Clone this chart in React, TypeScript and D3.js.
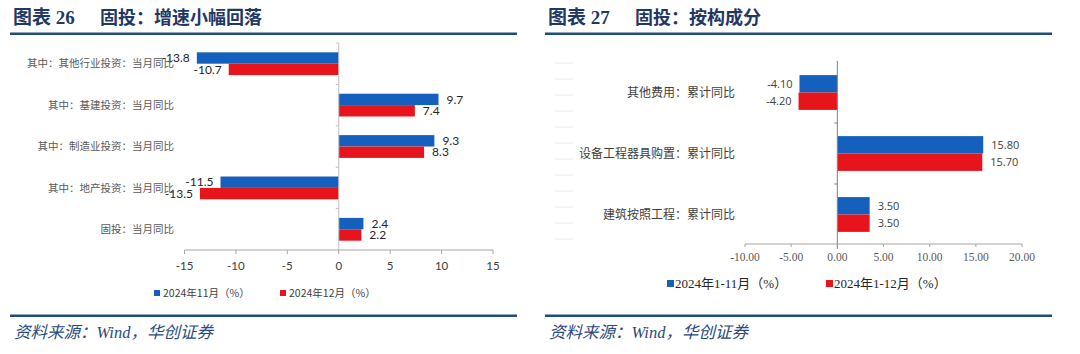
import React from 'react'
import * as d3 from 'd3'

// 图表26 固投：增速小幅回落
const leftCategories = [
  '其中：其他行业投资：当月同比',
  '其中：基建投资：当月同比',
  '其中：制造业投资：当月同比',
  '其中：地产投资：当月同比',
  '固投：当月同比',
]
const leftNov = [-13.8, 9.7, 9.3, -11.5, 2.4]
const leftDec = [-10.7, 7.4, 8.3, -13.5, 2.2]
const leftTicks = [-15, -10, -5, 0, 5, 10, 15]
const leftSeries = ['2024年11月（%）', '2024年12月（%）']

// 图表27 固投：按构成分
const rightCategories = ['其他费用：累计同比', '设备工程器具购置：累计同比', '建筑按照工程：累计同比']
const right11 = [-4.1, 15.8, 3.5]
const right12 = [-4.2, 15.7, 3.5]
const rightTicks = [-10, -5, 0, 5, 10, 15, 20]
const rightSeries = ['2024年1-11月（%）', '2024年1-12月（%）']

const BLUE = '#1560bd'
const RED = '#e8141c'
const NAVY = '#1f4e79'
const CJK = '"Noto Sans CJK SC", sans-serif'
const SERIF = '"Liberation Serif", "Noto Sans CJK SC", serif'

function Frame({x0, x1, title, num}: {x0: number, x1: number, title: string, num: string}) {
  return (
    <g>
      <text x={x0 + 3} y={24} fontFamily={SERIF} fontWeight="bold" fontSize={19} fill="#1f3864">
        图表 {num}
      </text>
      <text x={x0 + 90} y={24} fontFamily={CJK} fontWeight="bold" fontSize={18} fill="#1f3864">
        {title}
      </text>
      <rect x={x0} y={32.5} width={x1 - x0} height={2.5} fill={NAVY} />
      <rect x={x0} y={314.5} width={x1 - x0} height={2.5} fill={NAVY} />
      <text x={x0 + 4} y={338} fontFamily={SERIF} fontStyle="italic" fontSize={16.5} fill="#2a4a80">
        资料来源：Wind，华创证券
      </text>
    </g>
  )
}

function LeftChart() {
  const x = d3.scaleLinear().domain([-15, 15]).range([184.5, 493])
  const y = d3.scaleBand().domain(leftCategories).range([43, 250]).paddingInner(0.45).paddingOuter(0.225)
  const step = y.step()
  const bw = y.bandwidth() / 2
  const z = x(0)
  const series = [leftNov, leftDec]
  const colors = [BLUE, RED]
  return (
    <g>
      {/* bars */}
      {series.map((vals, s) =>
        leftCategories.map((c, i) => {
          const v = vals[i]
          const y0 = (y(c) as number) + s * bw
          const xa = Math.min(x(v), z)
          return (
            <g key={c + s}>
              <rect x={xa} y={y0} width={Math.abs(x(v) - z)} height={bw} fill={colors[s]} />
              <text
                x={v < 0 ? x(v) - 7 : x(v) + 8}
                y={y0 + bw / 2}
                dy="0.35em"
                textAnchor={v < 0 ? 'end' : 'start'}
                fontFamily="Lato, 'Noto Sans', sans-serif"
                fontSize={12}
                fill="#262626"
              >
                {v.toFixed(1)}
              </text>
            </g>
          )
        })
      )}
      {/* y axis at zero */}
      <line x1={z} x2={z} y1={43} y2={250} stroke="#bfbfbf" />
      {leftCategories.map((c, i) => (
        <line key={'t' + i} x1={z - 3} x2={z} y1={43 + i * step} y2={43 + i * step} stroke="#bfbfbf" />
      ))}
      {leftCategories.map(c => (
        <text key={c} x={174} y={(y(c) as number) + y.bandwidth() / 2} dy="0.35em" textAnchor="end"
          fontFamily={CJK} fontSize={10.5} fill="#595959">
          {c}
        </text>
      ))}
      {/* x axis */}
      <line x1={x(-15)} x2={x(15)} y1={250} y2={250} stroke="#a6a6a6" />
      {leftTicks.map(t => (
        <g key={t}>
          <line x1={x(t)} x2={x(t)} y1={250} y2={254} stroke="#a6a6a6" />
          <text x={x(t)} y={266} dy="0.35em" textAnchor="middle" fontFamily="Lato, 'Noto Sans', sans-serif"
            fontSize={11.5} fill="#404040">
            {t}
          </text>
        </g>
      ))}
      {/* legend */}
      {leftSeries.map((s, i) => (
        <g key={s}>
          <rect x={154 + i * 126} y={290} width={6} height={6} fill={colors[i]} />
          <text x={163 + i * 126} y={293} dy="0.35em" fontFamily={CJK} fontSize={10.5} fill="#404040">
            {s}
          </text>
        </g>
      ))}
    </g>
  )
}

function RightChart() {
  const x = d3.scaleLinear().domain([-10, 20]).range([745, 1022])
  const y = d3.scaleBand().domain(rightCategories).range([62, 245]).paddingInner(0.43).paddingOuter(0.215)
  const step = y.step()
  const bw = y.bandwidth() / 2
  const z = x(0)
  const series = [right11, right12]
  const colors = [BLUE, RED]
  const faint = d3.range(0, 12).map(i => 63 + i * 16)
  return (
    <g>
      {faint.map(fy => (
        <line key={fy} x1={555} x2={573} y1={fy} y2={fy} stroke="#ececec" />
      ))}
      {series.map((vals, s) =>
        rightCategories.map((c, i) => {
          const v = vals[i]
          const y0 = (y(c) as number) + s * bw
          const xa = Math.min(x(v), z)
          return (
            <g key={c + s}>
              <rect x={xa} y={y0} width={Math.abs(x(v) - z)} height={bw} fill={colors[s]} />
              <text
                x={v < 0 ? x(v) - 7 : x(v) + 8}
                y={y0 + bw / 2}
                dy="0.35em"
                textAnchor={v < 0 ? 'end' : 'start'}
                fontFamily="'Open Sans', 'Noto Sans', sans-serif"
                fontSize={11}
                fill="#404040"
              >
                {v.toFixed(2)}
              </text>
            </g>
          )
        })
      )}
      <line x1={z} x2={z} y1={61} y2={244} stroke="#808080" />
      {d3.range(1, rightCategories.length).map(i => (
        <line key={'t' + i} x1={z - 3} x2={z} y1={62 + i * step} y2={62 + i * step} stroke="#808080" />
      ))}
      {rightCategories.map(c => (
        <text key={c} x={735} y={(y(c) as number) + y.bandwidth() / 2} dy="0.35em" textAnchor="end"
          fontFamily={CJK} fontSize={12} fill="#404040">
          {c}
        </text>
      ))}
      <line x1={x(-10)} x2={x(20)} y1={244} y2={244} stroke="#a6a6a6" />
      {rightTicks.map(t => (
        <g key={t}>
          <line x1={x(t)} x2={x(t)} y1={244} y2={t === 0 ? 249 : 247} stroke={t === 0 ? '#808080' : '#a6a6a6'} />
          <text x={x(t)} y={257} dy="0.35em" textAnchor="middle" fontFamily={SERIF} fontSize={11.5} fill="#595959">
            {t.toFixed(2)}
          </text>
        </g>
      ))}
      {rightSeries.map((s, i) => (
        <g key={s}>
          <rect x={667 + i * 159} y={280} width={7} height={7} fill={colors[i]} />
          <text x={675 + i * 159} y={283.5} dy="0.35em" fontFamily={SERIF} fontSize={13} fill="#262626">
            {s}
          </text>
        </g>
      ))}
    </g>
  )
}

export default function App() {
  return (
    <svg width={1080} height={354} style={{position: 'absolute', left: 0, top: 0, background: '#fff'}}>
      <rect width={1080} height={354} fill="#fff" />
      <Frame x0={10} x1={517} num="26" title="固投：增速小幅回落" />
      <Frame x0={545} x1={1052} num="27" title="固投：按构成分" />
      <LeftChart />
      <RightChart />
    </svg>
  )
}
